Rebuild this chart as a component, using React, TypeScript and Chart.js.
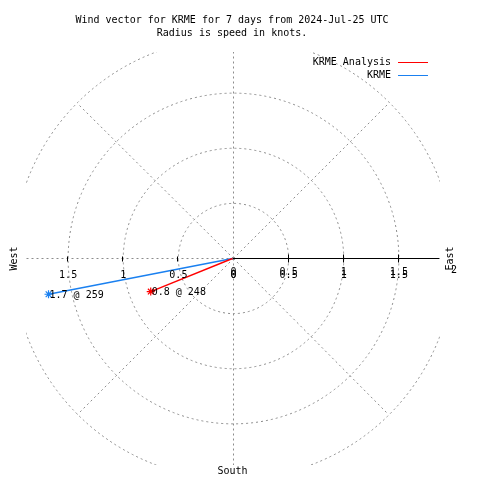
import React, { useEffect, useRef } from 'react';
import { Chart, registerables } from 'chart.js';

Chart.register(...registerables);

const titleLines = ['Wind vector for KRME for 7 days from 2024-Jul-25 UTC', 'Radius is speed in knots.'];
const seriesNames = ['KRME Analysis', 'KRME'];
const seriesSpeeds = [0.8, 1.7];
const seriesDirections = [248, 259];
const seriesColors = ['#ff0000', '#1a80f0'];
const ringValues = [0.5, 1, 1.5, 2];
const tickValues = [0, 0.5, 1, 1.5];
const tickLabels = ['0', '0.5', '1', '1.5'];
const outerTickValue = 2;
const outerTickLabel = '2';
const spokeAngles = [0, 45, 90, 135, 180, 225, 270, 315];
const compassWest = 'West';
const compassEast = 'East';
const compassSouth = 'South';

const FONT = '10px "DejaVu Sans Mono", monospace';
const GRID = '#8c8c8c';

function toXY(speed: number, dir: number) {
  const a = (dir * Math.PI) / 180;
  return { x: speed * Math.sin(a), y: speed * Math.cos(a) };
}

const polarPlugin = {
  id: 'polarDecor',
  beforeDatasetsDraw(chart: any) {
    const { ctx, chartArea, scales } = chart;
    const xs = scales.x;
    const ys = scales.y;
    const cx = xs.getPixelForValue(0);
    const cy = ys.getPixelForValue(0);
    const pxPer = xs.getPixelForValue(1) - cx;
    ctx.save();
    ctx.beginPath();
    ctx.rect(chartArea.left, chartArea.top, chartArea.right - chartArea.left + 1, chartArea.bottom - chartArea.top + 1);
    ctx.clip();
    ctx.strokeStyle = GRID;
    ctx.lineWidth = 1;
    ctx.setLineDash([2, 3]);
    ringValues.forEach((r) => {
      ctx.beginPath();
      ctx.arc(Math.round(cx) + 0.5, Math.round(cy) + 0.5, r * pxPer, 0, Math.PI * 2);
      ctx.stroke();
    });
    spokeAngles.forEach((ang) => {
      const p = toXY(ringValues[ringValues.length - 1], ang);
      ctx.beginPath();
      ctx.moveTo(Math.round(cx) + 0.5, Math.round(cy) + 0.5);
      ctx.lineTo(Math.round(xs.getPixelForValue(p.x)) + 0.5, Math.round(ys.getPixelForValue(p.y)) + 0.5);
      ctx.stroke();
    });
    ctx.setLineDash([]);
    // solid radial axis to the east
    const yl = Math.round(cy) + 0.5;
    ctx.strokeStyle = '#000000';
    ctx.beginPath();
    ctx.moveTo(Math.round(cx), yl);
    ctx.lineTo(chartArea.right, yl);
    ctx.stroke();
    // ticks on both sides
    tickValues.forEach((v) => {
      if (v === 0) return;
      [1, -1].forEach((s) => {
        const tx = Math.round(xs.getPixelForValue(s * v)) + 0.5;
        ctx.beginPath();
        if (s > 0) {
          ctx.moveTo(tx, yl - 4);
          ctx.lineTo(tx, yl + 4);
        } else {
          ctx.moveTo(tx, yl - 2);
          ctx.lineTo(tx, yl + 3);
        }
        ctx.stroke();
      });
    });
    ctx.restore();
  },
  afterDatasetsDraw(chart: any) {
    const { ctx, scales } = chart;
    const xs = scales.x;
    const ys = scales.y;
    const cx = xs.getPixelForValue(0);
    const cy = ys.getPixelForValue(0);
    ctx.save();
    ctx.font = FONT;
    ctx.fillStyle = '#000000';
    ctx.textBaseline = 'middle';
    // title
    ctx.textAlign = 'center';
    titleLines.forEach((t, i) => ctx.fillText(t, 232, 20 + i * 13));
    // tick labels
    tickValues.forEach((v, i) => {
      const lx = xs.getPixelForValue(-v);
      ctx.fillText(tickLabels[i], lx + 1, cy + 17);
      const rx = xs.getPixelForValue(v);
      ctx.fillText(tickLabels[i], rx + 1, cy + 14);
      ctx.fillText(tickLabels[i], rx + 1, cy + 17);
    });
    ctx.fillText(outerTickLabel, xs.getPixelForValue(outerTickValue) + 1, cy + 12);
    ctx.fillText(compassSouth, cx, 471);
    // rotated compass labels
    ctx.save();
    ctx.translate(14, cy);
    ctx.rotate(-Math.PI / 2);
    ctx.fillText(compassWest, 0, 0);
    ctx.restore();
    ctx.save();
    ctx.translate(450, cy);
    ctx.rotate(-Math.PI / 2);
    ctx.fillText(compassEast, 0, 0);
    ctx.restore();
    // value labels at vector tips
    ctx.textAlign = 'left';
    seriesSpeeds.forEach((sp, i) => {
      const p = toXY(sp, seriesDirections[i]);
      const px = xs.getPixelForValue(p.x);
      const py = ys.getPixelForValue(p.y);
      ctx.fillText(sp.toFixed(1) + ' @ ' + seriesDirections[i], px + 1, py + 1);
    });
    // legend
    seriesNames.forEach((name, i) => {
      const ly = 62 + i * 13;
      ctx.textAlign = 'right';
      ctx.fillStyle = '#000000';
      ctx.fillText(name, 391, ly);
      ctx.strokeStyle = seriesColors[i];
      ctx.lineWidth = 1;
      ctx.beginPath();
      ctx.moveTo(398, ly + 0.5);
      ctx.lineTo(428, ly + 0.5);
      ctx.stroke();
    });
    ctx.restore();
  },
};

export default function App() {
  const ref = useRef<HTMLCanvasElement>(null);
  useEffect(() => {
    document.body.style.margin = '0';
    const canvas = ref.current;
    if (!canvas) return;
    const datasets = seriesNames.map((name, i) => {
      const tip = toXY(seriesSpeeds[i], seriesDirections[i]);
      return {
        label: name,
        data: [{ x: 0, y: 0 }, tip],
        showLine: true,
        borderColor: seriesColors[i],
        backgroundColor: seriesColors[i],
        borderWidth: 1.4,
        pointStyle: 'star' as const,
        pointRadius: [0, 4],
        pointBorderWidth: 1.2,
        pointBorderColor: seriesColors[i],
      };
    });
    const chart = new Chart(canvas, {
      type: 'scatter',
      data: { datasets },
      plugins: [polarPlugin],
      options: {
        animation: false,
        responsive: false,
        devicePixelRatio: 1,
        layout: { padding: { left: 26, right: 41, top: 52, bottom: 16 } },
        plugins: { legend: { display: false }, tooltip: { enabled: false }, title: { display: false } },
        scales: {
          x: { type: 'linear', min: -1.873, max: 1.873, display: false },
          y: { type: 'linear', min: -1.864, max: 1.873, display: false },
        },
      },
    });
    return () => chart.destroy();
  }, []);
  return (
    <div style={{ width: 480, height: 480, background: '#ffffff' }}>
      <canvas ref={ref} width={480} height={480} style={{ display: 'block' }} />
    </div>
  );
}
